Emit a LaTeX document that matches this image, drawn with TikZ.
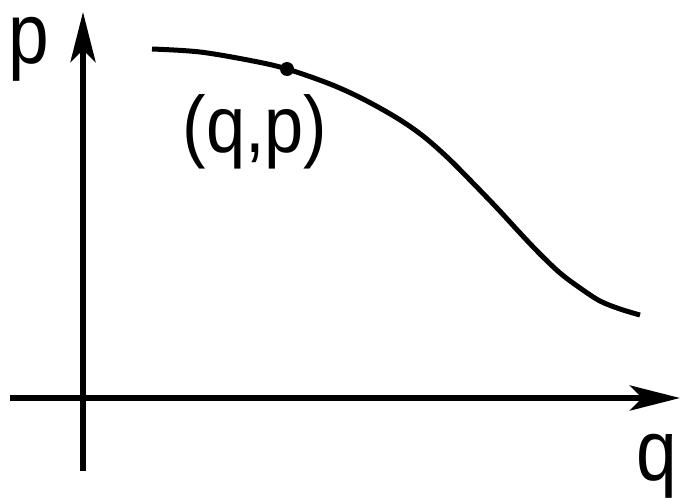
\documentclass[tikz,border=0pt]{standalone}
\usepackage{fontspec}
\setmainfont{Liberation Sans}
\usetikzlibrary{arrows.meta}
\tikzset{
  axis/.style={line width=6pt, -{Stealth[length=50pt,width=25pt,inset=12pt]}},
  curveline/.style={line width=5pt, line join=round},
  biglabel/.style={inner sep=0pt, anchor=base, xscale=0.85, text height=44pt, text depth=20pt, font=\fontsize{86}{90}\selectfont},
  ptlabel/.style={inner sep=0pt, anchor=base, xscale=0.88, font=\fontsize{80}{84}\selectfont},
}
\begin{document}
\begin{tikzpicture}[x=1pt,y=-1pt]
\useasboundingbox (0,0) rectangle (680,498);
\coordinate (xs) at (10,398);
\coordinate (xe) at (680,398);
\coordinate (ys) at (83,471);
\coordinate (ye) at (83,12);
\draw[axis] (xs) -- (xe);
\draw[axis] (ys) -- (ye);
\draw[curveline] plot[smooth, tension=0.55] coordinates
  {(152,49) (200,52) (253,61) (287,69) (330,84) (363,99) (397,118) (423,136) (447,157) (470,180) (497,208) (520,233) (540,254) (560,273) (580,288) (600,301) (620,309) (640,315)};
\coordinate (pt) at (287,69);
\fill (pt) circle (7);
\node[biglabel] (plab) at (29,63) {p};
\node[biglabel] (qlab) at (657,480) {q};
\node[ptlabel] (qp) at (255,152) {(q,p)};
\end{tikzpicture}
\end{document}
